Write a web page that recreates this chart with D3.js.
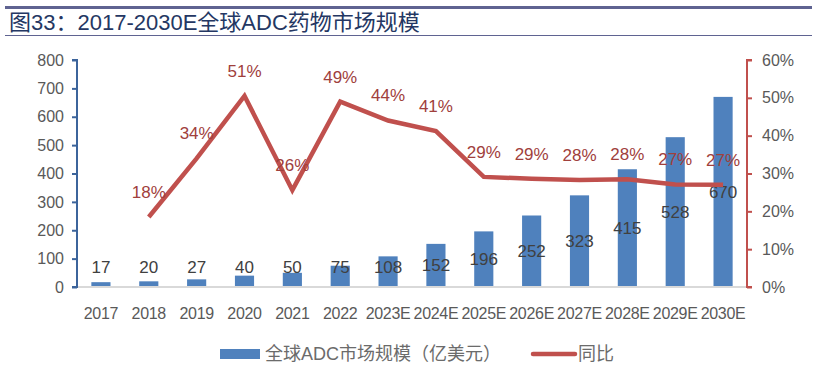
<!DOCTYPE html>
<html>
<head>
<meta charset="utf-8">
<script src="https://cdn.jsdelivr.net/npm/d3@7"></script>
<style>
  body { margin: 0; background: #fff; }
  svg { display: block; font-family: "Liberation Sans", Arial, "Noto Sans CJK SC", sans-serif; }
</style>
</head>
<body>
<div id="chart"></div>
<script>
// Chart data.
const years = ["2017", "2018", "2019", "2020", "2021", "2022", "2023E", "2024E",
  "2025E", "2026E", "2027E", "2028E", "2029E", "2030E"];
const marketSize = [17, 20, 27, 40, 50, 75, 108, 152, 196, 252, 323, 415, 528, 670];
// Growth rate, first year has none.
const growth = [null, 18.5, 34, 50.5, 25.6, 49, 44, 41.2, 29.1, 28.6, 28.3, 28.5, 27.1, 27];
const growthLabels = [null, "18%", "34%", "51%", "26%", "49%", "44%", "41%", "29%", "29%", "28%", "28%", "27%", "27%"];
const leftTicks = [0, 100, 200, 300, 400, 500, 600, 700, 800];
const rightTicks = [0, 10, 20, 30, 40, 50, 60];

const width = 817, height = 392;
const margin = { top: 60, right: 70, bottom: 105, left: 77 };
const innerW = width - margin.left - margin.right;
const innerH = height - margin.top - margin.bottom;

const blue = "#4F81BD", red = "#C0504D", grey = "#595959";

const svg = d3.select("#chart").append("svg")
  .attr("width", width)
  .attr("height", height);

// Title block with rules above and below.
svg.append("rect").attr("x", 5).attr("y", 6).attr("width", 807).attr("height", 3).attr("fill", "#5F6391");
svg.append("line").attr("x1", 5).attr("x2", 812).attr("y1", 35.5).attr("y2", 35.5)
  .attr("stroke", "#5F6391").attr("stroke-width", 1);
svg.append("text")
  .attr("x", 9).attr("y", 30)
  .attr("fill", "#243763")
  .style("font-size", "22px")
  .text("图33：2017-2030E全球ADC药物市场规模");

const g = svg.append("g").attr("transform", `translate(${margin.left},${margin.top})`);

const x = d3.scaleBand().domain(years).range([0, innerW]).paddingInner(0.6).paddingOuter(0.3);
const xc = d => x(d) + x.bandwidth() / 2;
const y = d3.scaleLinear().domain([0, 800]).range([innerH, 0]);
const y2 = d3.scaleLinear().domain([0, 60]).range([innerH, 0]);

// Bars
g.selectAll("rect.bar")
  .data(years)
  .enter()
  .append("rect")
  .attr("class", "bar")
  .attr("x", d => x(d))
  .attr("width", x.bandwidth())
  .attr("y", (d, i) => y(marketSize[i]))
  .attr("height", (d, i) => innerH - y(marketSize[i]))
  .attr("fill", blue);

// Baseline
g.append("line")
  .attr("x1", 0).attr("x2", innerW)
  .attr("y1", innerH).attr("y2", innerH)
  .attr("stroke", "#D9D9D9").attr("stroke-width", 2);

// Bar value labels, placed halfway up the bar but never below a floor.
g.selectAll("text.val")
  .data(years)
  .enter()
  .append("text")
  .attr("class", "val")
  .attr("x", d => xc(d))
  .attr("y", (d, i) => y(Math.max(marketSize[i] / 2, 70)))
  .attr("dy", "0.35em")
  .attr("text-anchor", "middle")
  .attr("fill", "#404040")
  .style("font-size", "17px")
  .text((d, i) => marketSize[i]);

// Growth line
const pts = years.map((d, i) => ({ year: d, v: growth[i], label: growthLabels[i] })).filter(p => p.v != null);
const line = d3.line().x(p => xc(p.year)).y(p => y2(p.v));
g.append("path")
  .datum(pts)
  .attr("d", line)
  .attr("fill", "none")
  .attr("stroke", red)
  .attr("stroke-width", 4.5)
  .attr("stroke-linejoin", "miter");

g.selectAll("text.pct")
  .data(pts)
  .enter()
  .append("text")
  .attr("class", "pct")
  .attr("x", p => xc(p.year))
  .attr("y", p => y2(p.v) - 25)
  .attr("dy", "0.35em")
  .attr("text-anchor", "middle")
  .attr("fill", "#A0403C")
  .style("font-size", "17px")
  .text(p => p.label);

// Left axis
const leftAxis = g.append("g")
  .call(d3.axisLeft(y).tickValues(leftTicks).tickSize(5).tickPadding(8));
leftAxis.select(".domain").attr("stroke", "#3C649B").attr("stroke-width", 2)
  .attr("d", `M-5,${innerH}H0V0H-5`);
leftAxis.selectAll(".tick line").attr("stroke", "#3C649B").attr("stroke-width", 2);
leftAxis.selectAll(".tick text").attr("fill", grey).style("font-size", "16px")
  .style("font-family", "'Liberation Sans', Arial, sans-serif");

// Right axis
const rightAxis = g.append("g")
  .attr("transform", `translate(${innerW},0)`)
  .call(d3.axisRight(y2).tickValues(rightTicks).tickFormat(d => d + "%").tickSize(5).tickPadding(10));
rightAxis.select(".domain").attr("stroke", red).attr("stroke-width", 2)
  .attr("d", `M5,${innerH}H0V0H5`);
rightAxis.selectAll(".tick line").attr("stroke", red).attr("stroke-width", 2);
rightAxis.selectAll(".tick text").attr("fill", grey).style("font-size", "16px")
  .style("font-family", "'Liberation Sans', Arial, sans-serif");

// Category labels
g.selectAll("text.cat")
  .data(years)
  .enter()
  .append("text")
  .attr("class", "cat")
  .attr("x", d => xc(d))
  .attr("y", innerH + 32)
  .attr("text-anchor", "middle")
  .attr("fill", grey)
  .style("font-size", "16px")
  .style("letter-spacing", "-0.3px")
  .text(d => d);

// Legend
const legend = svg.append("g").attr("transform", "translate(220,354)");
legend.append("rect").attr("x", 0).attr("y", -5).attr("width", 40).attr("height", 10).attr("fill", blue);
legend.append("text").attr("x", 45).attr("y", 0).attr("dy", "0.35em")
  .attr("fill", "#6B6B6B").style("font-size", "18px").text("全球ADC市场规模（亿美元）");
legend.append("line").attr("x1", 313).attr("x2", 355).attr("y1", 0).attr("y2", 0)
  .attr("stroke", red).attr("stroke-width", 4.5).attr("stroke-linecap", "round");
legend.append("text").attr("x", 358).attr("y", 0).attr("dy", "0.35em")
  .attr("fill", "#6B6B6B").style("font-size", "18px").text("同比");
</script>
</body>
</html>
